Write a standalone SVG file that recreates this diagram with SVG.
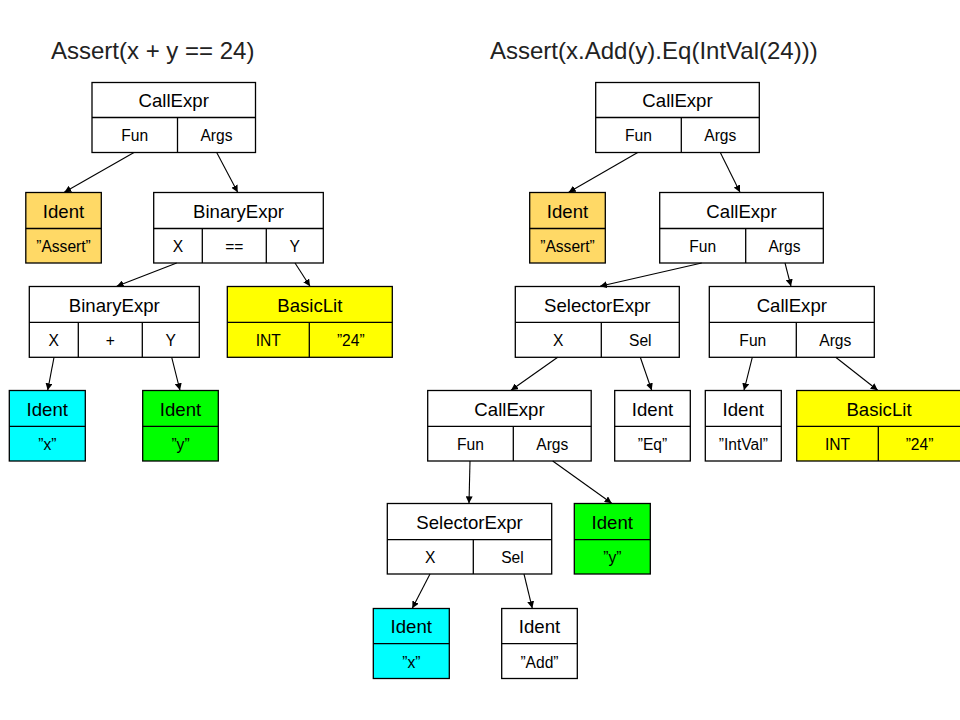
<svg xmlns="http://www.w3.org/2000/svg" width="960" height="720" viewBox="0 0 960 720">
<style>
  .box { stroke: #000; stroke-width: 1.3; }
  .w { fill: #ffffff; }
  .o { fill: #ffd966; }
  .yl { fill: #ffff00; }
  .c { fill: #00ffff; }
  .g { fill: #00ff00; }
  .ln { stroke: #000; stroke-width: 1.3; fill: none; }
  .h { font-family: "Liberation Sans", Arial, sans-serif; font-size: 18.6px; fill: #000; text-anchor: middle; }
  .f { font-family: "Liberation Sans", Arial, sans-serif; font-size: 15.6px; fill: #000; text-anchor: middle; }
  .t { font-family: "Liberation Sans", Arial, sans-serif; font-size: 24px; fill: #222; }
  .con line { stroke: #000; stroke-width: 1.1; marker-end: url(#ah); }
</style>
<defs>
  <marker id="ah" viewBox="0 0 10 10" refX="10" refY="5" markerWidth="7" markerHeight="7" markerUnits="userSpaceOnUse" orient="auto">
    <path d="M0,0 L10,5 L0,10 z" fill="#000"/>
  </marker>
</defs>
<rect width="960" height="720" fill="#ffffff"/>

<text class="t" x="51" y="58.5">Assert(x + y == 24)</text>
<text class="t" x="490" y="58.5">Assert(x.Add(y).Eq(IntVal(24)))</text>

<!-- LEFT TREE -->
<g id="l-call">
  <rect class="box w" x="92" y="82.5" width="163.5" height="70"/>
  <line class="ln" x1="92" y1="117.5" x2="255.5" y2="117.5"/>
  <line class="ln" x1="177.5" y1="117.5" x2="177.5" y2="152.5"/>
  <text class="h" x="173.7" y="106.5">CallExpr</text>
  <text class="f" x="134.7" y="141.3">Fun</text>
  <text class="f" x="216.5" y="141.3">Args</text>
</g>
<g id="l-ident-assert">
  <rect class="box o" x="25.8" y="192.5" width="75.5" height="70.5"/>
  <line class="ln" x1="25.8" y1="228.5" x2="101.3" y2="228.5"/>
  <text class="h" x="63.5" y="217.5">Ident</text>
  <text class="f" x="63.5" y="252.3">”Assert”</text>
</g>
<g id="l-binary">
  <rect class="box w" x="153.7" y="192.5" width="169.6" height="70.5"/>
  <line class="ln" x1="153.7" y1="228.5" x2="323.3" y2="228.5"/>
  <line class="ln" x1="202.3" y1="228.5" x2="202.3" y2="263"/>
  <line class="ln" x1="266.3" y1="228.5" x2="266.3" y2="263"/>
  <text class="h" x="238.5" y="217.5">BinaryExpr</text>
  <text class="f" x="178" y="252.3">X</text>
  <text class="f" x="234.3" y="252.3">==</text>
  <text class="f" x="294.8" y="252.3">Y</text>
</g>
<g id="l-binary2">
  <rect class="box w" x="29.3" y="286.5" width="170" height="70.8"/>
  <line class="ln" x1="29.3" y1="322.3" x2="199.3" y2="322.3"/>
  <line class="ln" x1="78.3" y1="322.3" x2="78.3" y2="357.3"/>
  <line class="ln" x1="142.3" y1="322.3" x2="142.3" y2="357.3"/>
  <text class="h" x="114.3" y="311.5">BinaryExpr</text>
  <text class="f" x="53.8" y="346">X</text>
  <text class="f" x="110.3" y="346">+</text>
  <text class="f" x="170.8" y="346">Y</text>
</g>
<g id="l-basiclit">
  <rect class="box yl" x="227.3" y="286.5" width="165" height="70.8"/>
  <line class="ln" x1="227.3" y1="322.3" x2="392.3" y2="322.3"/>
  <line class="ln" x1="309.3" y1="322.3" x2="309.3" y2="357.3"/>
  <text class="h" x="309.8" y="311.5">BasicLit</text>
  <text class="f" x="268.3" y="346">INT</text>
  <text class="f" x="350.8" y="346">”24”</text>
</g>
<g id="l-ident-x">
  <rect class="box c" x="9.3" y="390.5" width="76" height="70.5"/>
  <line class="ln" x1="9.3" y1="426.3" x2="85.3" y2="426.3"/>
  <text class="h" x="47.3" y="415.5">Ident</text>
  <text class="f" x="47.3" y="450">”x”</text>
</g>
<g id="l-ident-y">
  <rect class="box g" x="142.7" y="390.5" width="75.6" height="70.5"/>
  <line class="ln" x1="142.7" y1="426.3" x2="218.3" y2="426.3"/>
  <text class="h" x="180.5" y="415.5">Ident</text>
  <text class="f" x="180.5" y="450">”y”</text>
</g>

<!-- RIGHT TREE -->
<g id="r-call">
  <rect class="box w" x="595.7" y="82.5" width="163.6" height="70"/>
  <line class="ln" x1="595.7" y1="117.5" x2="759.3" y2="117.5"/>
  <line class="ln" x1="681.3" y1="117.5" x2="681.3" y2="152.5"/>
  <text class="h" x="677.5" y="106.5">CallExpr</text>
  <text class="f" x="638.5" y="141.3">Fun</text>
  <text class="f" x="720.3" y="141.3">Args</text>
</g>
<g id="r-ident-assert">
  <rect class="box o" x="529.7" y="192.5" width="75.6" height="70.5"/>
  <line class="ln" x1="529.7" y1="228.5" x2="605.3" y2="228.5"/>
  <text class="h" x="567.5" y="217.5">Ident</text>
  <text class="f" x="567.5" y="252.3">”Assert”</text>
</g>
<g id="r-call2">
  <rect class="box w" x="659.7" y="192.5" width="163.6" height="70.5"/>
  <line class="ln" x1="659.7" y1="228.5" x2="823.3" y2="228.5"/>
  <line class="ln" x1="745.7" y1="228.5" x2="745.7" y2="263"/>
  <text class="h" x="741.5" y="217.5">CallExpr</text>
  <text class="f" x="702.7" y="252.3">Fun</text>
  <text class="f" x="784.5" y="252.3">Args</text>
</g>
<g id="r-selector">
  <rect class="box w" x="515.3" y="286.5" width="164" height="70.8"/>
  <line class="ln" x1="515.3" y1="322.3" x2="679.3" y2="322.3"/>
  <line class="ln" x1="601.3" y1="322.3" x2="601.3" y2="357.3"/>
  <text class="h" x="597.3" y="311.5">SelectorExpr</text>
  <text class="f" x="558.3" y="346">X</text>
  <text class="f" x="640.3" y="346">Sel</text>
</g>
<g id="r-call3">
  <rect class="box w" x="709.3" y="286.5" width="165" height="70.8"/>
  <line class="ln" x1="709.3" y1="322.3" x2="874.3" y2="322.3"/>
  <line class="ln" x1="796.3" y1="322.3" x2="796.3" y2="357.3"/>
  <text class="h" x="791.8" y="311.5">CallExpr</text>
  <text class="f" x="752.8" y="346">Fun</text>
  <text class="f" x="835.3" y="346">Args</text>
</g>
<g id="r-call4">
  <rect class="box w" x="427.7" y="390.5" width="163.5" height="70.5"/>
  <line class="ln" x1="427.7" y1="426.3" x2="591.2" y2="426.3"/>
  <line class="ln" x1="513.3" y1="426.3" x2="513.3" y2="461"/>
  <text class="h" x="509.5" y="415.5">CallExpr</text>
  <text class="f" x="470.5" y="450">Fun</text>
  <text class="f" x="552.3" y="450">Args</text>
</g>
<g id="r-ident-eq">
  <rect class="box w" x="614.7" y="390.5" width="75.6" height="70.5"/>
  <line class="ln" x1="614.7" y1="426.3" x2="690.3" y2="426.3"/>
  <text class="h" x="652.5" y="415.5">Ident</text>
  <text class="f" x="652.5" y="450">”Eq”</text>
</g>
<g id="r-ident-intval">
  <rect class="box w" x="705.3" y="390.5" width="76" height="70.5"/>
  <line class="ln" x1="705.3" y1="426.3" x2="781.3" y2="426.3"/>
  <text class="h" x="743.3" y="415.5">Ident</text>
  <text class="f" x="743.3" y="450">”IntVal”</text>
</g>
<g id="r-basiclit">
  <rect class="box yl" x="796.7" y="390.5" width="165" height="70.5"/>
  <line class="ln" x1="796.7" y1="426.3" x2="961.7" y2="426.3"/>
  <line class="ln" x1="878.3" y1="426.3" x2="878.3" y2="461"/>
  <text class="h" x="879" y="415.5">BasicLit</text>
  <text class="f" x="837.5" y="450">INT</text>
  <text class="f" x="919.5" y="450">”24”</text>
</g>
<g id="r-selector2">
  <rect class="box w" x="387.3" y="503.5" width="164.4" height="70.5"/>
  <line class="ln" x1="387.3" y1="539.7" x2="551.7" y2="539.7"/>
  <line class="ln" x1="473.3" y1="539.7" x2="473.3" y2="574"/>
  <text class="h" x="469.5" y="528.5">SelectorExpr</text>
  <text class="f" x="430.3" y="563">X</text>
  <text class="f" x="512.5" y="563">Sel</text>
</g>
<g id="r-ident-y">
  <rect class="box g" x="574.3" y="503.5" width="76" height="70.5"/>
  <line class="ln" x1="574.3" y1="539.7" x2="650.3" y2="539.7"/>
  <text class="h" x="612.3" y="528.5">Ident</text>
  <text class="f" x="612.3" y="563">”y”</text>
</g>
<g id="r-ident-x">
  <rect class="box c" x="373.3" y="608.5" width="76" height="70"/>
  <line class="ln" x1="373.3" y1="643.7" x2="449.3" y2="643.7"/>
  <text class="h" x="411.3" y="633">Ident</text>
  <text class="f" x="411.3" y="667.5">”x”</text>
</g>
<g id="r-ident-add">
  <rect class="box w" x="501.7" y="608.5" width="75.6" height="70"/>
  <line class="ln" x1="501.7" y1="643.7" x2="577.3" y2="643.7"/>
  <text class="h" x="539.5" y="633">Ident</text>
  <text class="f" x="539.5" y="667.5">”Add”</text>
</g>

<g id="connectors" class="con">
  <line x1="134" y1="152.5" x2="64.3" y2="192.3"/>
  <line x1="216.7" y1="152.5" x2="237.7" y2="192.3"/>
  <line x1="176.7" y1="263" x2="116.7" y2="286.3"/>
  <line x1="295" y1="263" x2="310" y2="286.3"/>
  <line x1="54" y1="357.3" x2="47.7" y2="390.3"/>
  <line x1="171.7" y1="357.3" x2="180" y2="390.3"/>

  <line x1="637.7" y1="152.5" x2="568.7" y2="192.3"/>
  <line x1="720.3" y1="152.5" x2="740" y2="192.3"/>
  <line x1="701.7" y1="263" x2="600" y2="286.3"/>
  <line x1="785" y1="263" x2="791" y2="286.3"/>
  <line x1="557.7" y1="357.3" x2="511" y2="390.3"/>
  <line x1="640.3" y1="357.3" x2="651.7" y2="390.3"/>
  <line x1="752.3" y1="357.3" x2="744" y2="390.3"/>
  <line x1="835.7" y1="357.3" x2="877.7" y2="390.3"/>
  <line x1="470" y1="461" x2="469" y2="503.3"/>
  <line x1="552.7" y1="461" x2="611.7" y2="503.3"/>
  <line x1="430" y1="574" x2="412.3" y2="608.3"/>
  <line x1="524" y1="574" x2="532.3" y2="608.3"/>
</g>
</svg>
